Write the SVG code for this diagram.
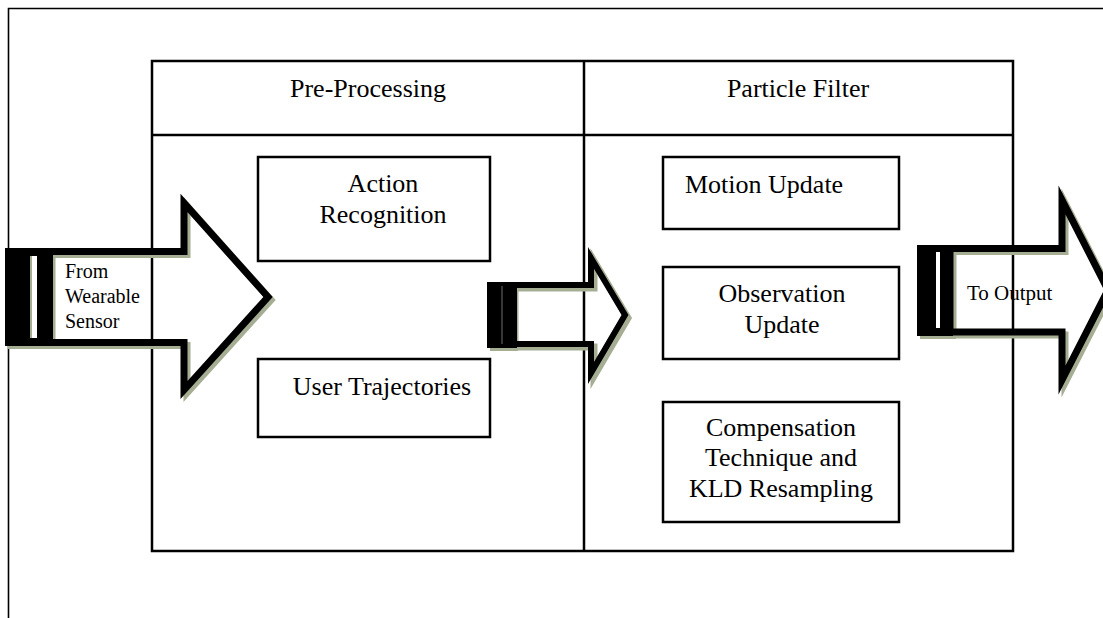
<svg xmlns="http://www.w3.org/2000/svg" width="1103" height="618" viewBox="0 0 1103 618">
<style>
.t{font-family:"Liberation Serif","Times New Roman",serif;fill:#000}
.h{font-size:26px}
.s{font-size:20px}
.box{fill:none;stroke:#000;stroke-width:2.5}
.frame{fill:none;stroke:#000;stroke-width:1.6}
.arr{fill:none;stroke:#000;stroke-width:7;stroke-linejoin:miter;stroke-miterlimit:10}
.sh{fill:none;stroke:#a5ae92;stroke-width:7;stroke-linejoin:miter;stroke-miterlimit:10}
.blk{fill:#000}
.shb{fill:#a5ae92}
</style>
<rect width="1103" height="618" fill="#fff"/>
<g id="frame">
<path class="frame" d="M8.5,620 V8.5 H1103"/>
</g>
<g id="main">
<rect class="box" x="152" y="61" width="861" height="490"/>
<line class="box" x1="152" y1="135" x2="1013" y2="135"/>
<line class="box" x1="584" y1="61" x2="584" y2="551"/>
</g>
<g id="preprocessing">
<text class="t h" x="368" y="97" text-anchor="middle">Pre-Processing</text>
</g>
<g id="particlefilter">
<text class="t h" x="798" y="97" text-anchor="middle">Particle Filter</text>
</g>
<g id="action">
<rect class="box" x="258" y="157" width="232" height="104"/>
<text class="t h" x="383" y="192" text-anchor="middle">Action</text>
<text class="t h" x="383" y="223" text-anchor="middle">Recognition</text>
</g>
<g id="user">
<rect class="box" x="258" y="359" width="232" height="78"/>
<text class="t h" x="382" y="395" text-anchor="middle">User Trajectories</text>
</g>
<g id="motion">
<rect class="box" x="663" y="157" width="236" height="72"/>
<text class="t h" x="685" y="193">Motion Update</text>
</g>
<g id="observation">
<rect class="box" x="663" y="267" width="236" height="92"/>
<text class="t h" x="782" y="302" text-anchor="middle">Observation</text>
<text class="t h" x="782" y="333" text-anchor="middle">Update</text>
</g>
<g id="compensation">
<rect class="box" x="663" y="402" width="236" height="120"/>
<text class="t h" x="781" y="436" text-anchor="middle">Compensation</text>
<text class="t h" x="781" y="466" text-anchor="middle">Technique and</text>
<text class="t h" x="781" y="497" text-anchor="middle">KLD Resampling</text>
</g>
<g id="connectors">
<g id="arrow-in">
<rect class="shb" x="8" y="251" width="45" height="98"/>
<polygon class="sh" points="52,254.5 187,254.5 187,206 271,300 187,393 187,345.5 52,345.5"/>
<rect class="blk" x="5" y="248" width="48" height="98"/>
<rect fill="#fff" x="30" y="256" width="7" height="82"/>
<rect class="shb" x="30" y="256" width="2" height="82"/>
<polygon class="arr" points="49,251.5 184,251.5 184,203 268,297 184,390 184,342.5 49,342.5"/>
<text class="t s" x="65" y="278">From</text>
<text class="t s" x="65" y="303">Wearable</text>
<text class="t s" x="65" y="328">Sensor</text>
</g>
<g id="arrow-mid">
<rect class="shb" x="490" y="285" width="28" height="66"/>
<polygon class="sh" points="515,288 594,288 594,261 628,318 594,376 594,347 515,347"/>
<rect class="blk" x="487" y="282" width="30" height="66"/>
<line x1="502" y1="286" x2="502" y2="344" stroke="#888" stroke-width="0.8"/>
<polygon class="arr" points="512,285 591,285 591,258 625,315 591,373 591,344 512,344" style="stroke-width:6"/>
</g>
<g id="arrow-out">
<rect class="shb" x="920" y="248" width="36" height="91"/>
<polygon class="sh" points="953,251.5 1065,251.5 1065,203 1111,293 1065,383 1065,335 953,335"/>
<rect class="blk" x="917" y="245" width="36" height="91"/>
<rect fill="#fff" x="936" y="252" width="4" height="76"/>
<polygon class="arr" points="950,248.5 1062,248.5 1062,200 1108,290 1062,380 1062,332 950,332"/>
<text class="t" x="967" y="300" font-size="21">To Output</text>
</g>
</g>
</svg>
